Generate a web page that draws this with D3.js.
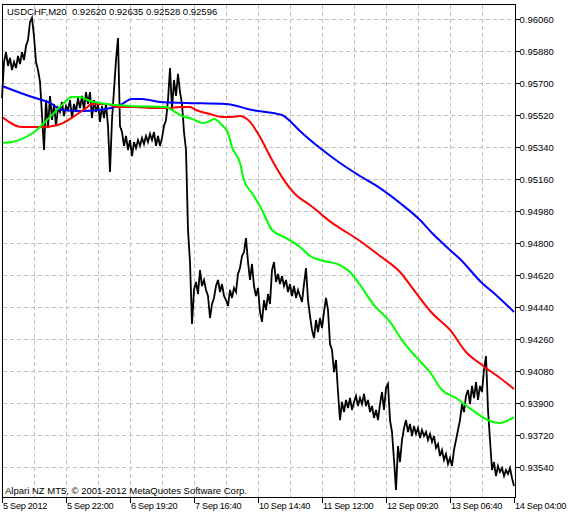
<!DOCTYPE html>
<html>
<head>
<meta charset="utf-8">
<script src="https://cdn.jsdelivr.net/npm/d3@7"></script>
<style>
  body { margin: 0; background: #fff; }
  svg { display: block; }
</style>
</head>
<body>
<svg id="chart" width="568" height="519"></svg>
<script>
// USDCHF M20 close, one value every 2 bars
const closeStep = 2;
const closePrices = [
  0.95616, 0.95818, 0.95874, 0.95796, 0.95841, 0.95773, 0.95818, 0.95784, 0.95852, 0.95807,
  0.95874, 0.95829, 0.95908, 0.95942, 0.96043, 0.96066, 0.95964, 0.95818, 0.95773, 0.95706,
  0.95520, 0.95323, 0.95604, 0.95447, 0.95627, 0.95492, 0.95582, 0.95458, 0.95559, 0.95537,
  0.95593, 0.95514, 0.95571, 0.95548, 0.95604, 0.95503, 0.95582, 0.95537, 0.95616, 0.95559,
  0.95627, 0.95548, 0.95649, 0.95582, 0.95649, 0.95503, 0.95604, 0.95537, 0.95582, 0.95481,
  0.95571, 0.95503, 0.95582, 0.95458, 0.95199, 0.95492, 0.95661, 0.95829, 0.95953, 0.95458,
  0.95424, 0.95346, 0.95402, 0.95323, 0.95379, 0.95289, 0.95368, 0.95334, 0.95379, 0.95346,
  0.95391, 0.95357, 0.95402, 0.95368, 0.95413, 0.95379, 0.95424, 0.95346, 0.95402, 0.95346,
  0.95391, 0.95458, 0.95492, 0.95604, 0.95784, 0.95548, 0.95717, 0.95627, 0.95751, 0.95649,
  0.95582, 0.95424, 0.95323, 0.94873, 0.94693, 0.94344, 0.94536, 0.94581, 0.94513, 0.94648,
  0.94558, 0.94592, 0.94536, 0.94502, 0.94378, 0.94457, 0.94491, 0.94558, 0.94592, 0.94524,
  0.94569, 0.94502, 0.94479, 0.94446, 0.94536, 0.94491, 0.94547, 0.94524, 0.94626, 0.94659,
  0.94727, 0.94749, 0.94828, 0.94693, 0.94592, 0.94682, 0.94558, 0.94502, 0.94547, 0.94412,
  0.94356, 0.94479, 0.94423, 0.94513, 0.94457, 0.94648, 0.94693, 0.94581, 0.94626, 0.94569,
  0.94614, 0.94558, 0.94592, 0.94524, 0.94569, 0.94502, 0.94558, 0.94491, 0.94536, 0.94502,
  0.94468, 0.94569, 0.94659, 0.94479, 0.94389, 0.94311, 0.94266, 0.94367, 0.94299, 0.94378,
  0.94322, 0.94412, 0.94491, 0.94423, 0.94232, 0.94198, 0.94074, 0.94142, 0.93962, 0.93804,
  0.93906, 0.93849, 0.93917, 0.93872, 0.93928, 0.93861, 0.93906, 0.93939, 0.93883, 0.93928,
  0.93894, 0.93951, 0.93883, 0.93917, 0.93849, 0.93883, 0.93816, 0.93861, 0.93804, 0.93894,
  0.93962, 0.93861, 0.93984, 0.94007, 0.93804, 0.93737, 0.93579, 0.93411, 0.93658, 0.93568,
  0.93692, 0.93759, 0.93804, 0.93737, 0.93782, 0.93714, 0.93771, 0.93726, 0.93759, 0.93703,
  0.93748, 0.93714, 0.93737, 0.93692, 0.93726, 0.93681, 0.93714, 0.93647, 0.93669, 0.93602,
  0.93636, 0.93579, 0.93613, 0.93557, 0.93591, 0.93546, 0.93636, 0.93692, 0.93748, 0.93804,
  0.93894, 0.93849, 0.93939, 0.93973, 0.93894, 0.93996, 0.93928, 0.94018, 0.93917, 0.93996,
  0.93962, 0.94086, 0.94164, 0.93861, 0.93692, 0.93523, 0.93568, 0.93489, 0.93546, 0.93512,
  0.93534, 0.93489, 0.93523, 0.93501, 0.93534, 0.93478, 0.93433
];

// moving averages (bar index, value)
const maBlueBars = [0, 30, 48, 60, 80, 98, 118, 130, 140, 158, 184, 224, 250, 280, 290, 298, 318, 338, 358, 378, 398, 418, 430, 448, 458, 480, 494, 512];
const maBlueValues = [0.95683, 0.95621, 0.95588, 0.95548, 0.95543, 0.95548, 0.95576, 0.95610, 0.95610, 0.95593, 0.95588, 0.95582, 0.95548, 0.95520, 0.95475, 0.95430, 0.95334, 0.95250, 0.95177, 0.95109, 0.95025, 0.94929, 0.94856, 0.94761, 0.94710, 0.94575, 0.94508, 0.94412];

const maRedBars = [0, 20, 40, 56, 74, 84, 90, 104, 116, 132, 152, 166, 178, 188, 194, 208, 220, 230, 238, 248, 258, 270, 282, 294, 308, 320, 330, 338, 358, 378, 398, 414, 430, 448, 464, 480, 498, 512];
const maRedValues = [0.95509, 0.95453, 0.95453, 0.95464, 0.95520, 0.95559, 0.95582, 0.95582, 0.95565, 0.95565, 0.95559, 0.95559, 0.95565, 0.95565, 0.95548, 0.95526, 0.95509, 0.95509, 0.95514, 0.95481, 0.95396, 0.95267, 0.95154, 0.95070, 0.95014, 0.94958, 0.94913, 0.94884, 0.94811, 0.94727, 0.94637, 0.94519, 0.94406, 0.94311, 0.94187, 0.94114, 0.94041, 0.93979];

const maGreenBars = [0, 10, 32, 48, 60, 70, 78, 88, 98, 114, 128, 164, 170, 180, 190, 200, 208, 212, 220, 226, 230, 238, 242, 250, 260, 270, 284, 298, 308, 318, 338, 348, 358, 372, 388, 400, 414, 428, 440, 454, 470, 488, 498, 512];
const maGreenValues = [0.95363, 0.95368, 0.95424, 0.95509, 0.95576, 0.95621, 0.95621, 0.95599, 0.95588, 0.95576, 0.95571, 0.95565, 0.95548, 0.95514, 0.95498, 0.95475, 0.95486, 0.95498, 0.95464, 0.95419, 0.95340, 0.95250, 0.95154, 0.95081, 0.94986, 0.94873, 0.94828, 0.94778, 0.94727, 0.94704, 0.94676, 0.94637, 0.94564, 0.94451, 0.94356, 0.94254, 0.94159, 0.94074, 0.93973, 0.93928, 0.93861, 0.93799, 0.93788, 0.93821];

const yTickValues = [0.96060, 0.95880, 0.95700, 0.95520, 0.95340, 0.95160, 0.94980, 0.94800, 0.94620, 0.94440, 0.94260, 0.94080, 0.93900, 0.93720, 0.93540];
const xTickBars = [0, 64, 128, 192, 256, 320, 384, 448, 512];
const xTickLabels = ["5 Sep 2012", "5 Sep 22:00", "6 Sep 19:20", "7 Sep 16:40", "10 Sep 14:40", "11 Sep 12:00", "12 Sep 09:20", "13 Sep 06:40", "14 Sep 04:00"];
const gridBars = [32, 64, 96, 128, 160, 192, 224, 256, 288, 320, 352, 384, 416, 448, 480];

const titleText = "USDCHF,M20  0.92620 0.92635 0.92528 0.92596";
const footText = "Alpari NZ MT5, \u00a9 2001-2012 MetaQuotes Software Corp.";

const svg = d3.select("#chart");
const font = "'Liberation Sans', Arial, sans-serif";
const frame = { left: 2.5, right: 515.5, top: 4.5, bottom: 497.5 };

const x = d3.scaleLinear().domain([0, 513]).range([2, 515]);
const y = d3.scaleLinear().domain([0.93540, 0.96060]).range([467, 19]);

svg.append("rect").attr("width", 568).attr("height", 519).attr("fill", "#fff");

// grid
const grid = svg.append("g")
  .attr("stroke", "#c0c0c0")
  .attr("stroke-dasharray", "4,3")
  .attr("shape-rendering", "crispEdges");
grid.selectAll("line.h").data(yTickValues).join("line")
  .attr("class", "h")
  .attr("x1", frame.left).attr("x2", frame.right)
  .attr("y1", d => Math.round(y(d)) + 0.5).attr("y2", d => Math.round(y(d)) + 0.5);
grid.selectAll("line.v").data(gridBars).join("line")
  .attr("class", "v")
  .attr("y1", frame.top).attr("y2", frame.bottom)
  .attr("x1", d => Math.round(x(d)) + 0.5).attr("x2", d => Math.round(x(d)) + 0.5);

// price line
const priceLine = d3.line()
  .x((d, i) => x(i * closeStep))
  .y(d => y(d));
svg.append("path")
  .datum(closePrices)
  .attr("fill", "none")
  .attr("stroke", "#000")
  .attr("stroke-width", 1.8)
  .attr("stroke-linejoin", "miter")
  .attr("d", priceLine);

// moving averages
const maLine = d3.line()
  .x(d => x(d[0]))
  .y(d => y(d[1]))
  .curve(d3.curveMonotoneX);
[
  [maBlueBars, maBlueValues, "#0000ff"],
  [maRedBars, maRedValues, "#ff0000"],
  [maGreenBars, maGreenValues, "#00ff00"]
].forEach(([bars, vals, color]) => {
  svg.append("path")
    .datum(d3.zip(bars, vals))
    .attr("fill", "none")
    .attr("stroke", color)
    .attr("stroke-width", 2)
    .attr("d", maLine);
});

// frame
svg.append("rect")
  .attr("x", frame.left).attr("y", frame.top)
  .attr("width", frame.right - frame.left)
  .attr("height", frame.bottom - frame.top)
  .attr("fill", "none")
  .attr("stroke", "#000")
  .attr("shape-rendering", "crispEdges");

// right axis
const yAxis = svg.append("g").attr("font-family", font).attr("font-size", 9.5);
yAxis.selectAll("line").data(yTickValues).join("line")
  .attr("x1", frame.right).attr("x2", frame.right + 4)
  .attr("y1", d => Math.round(y(d)) + 0.5).attr("y2", d => Math.round(y(d)) + 0.5)
  .attr("stroke", "#000").attr("shape-rendering", "crispEdges");
yAxis.selectAll("text").data(yTickValues).join("text")
  .attr("x", frame.right + 4)
  .attr("y", d => y(d) + 3.6)
  .text(d => d.toFixed(5));

// bottom axis
const xAxis = svg.append("g")
  .attr("font-family", font)
  .attr("font-size", 9.2)
  .attr("letter-spacing", -0.3);
xAxis.selectAll("line").data(xTickBars).join("line")
  .attr("x1", d => Math.round(x(d)) + 0.5).attr("x2", d => Math.round(x(d)) + 0.5)
  .attr("y1", frame.bottom).attr("y2", frame.bottom + 5)
  .attr("stroke", "#000").attr("shape-rendering", "crispEdges");
xAxis.selectAll("text").data(xTickBars).join("text")
  .attr("x", d => x(d) + 1)
  .attr("y", 509)
  .text((d, i) => xTickLabels[i]);

// labels
svg.append("text")
  .attr("x", 7).attr("y", 15)
  .attr("font-family", font).attr("font-size", 9.5)
  .style("white-space", "pre")
  .text(titleText);
svg.append("text")
  .attr("x", 5).attr("y", 494)
  .attr("font-family", font).attr("font-size", 9.5)
  .text(footText);
</script>
</body>
</html>
